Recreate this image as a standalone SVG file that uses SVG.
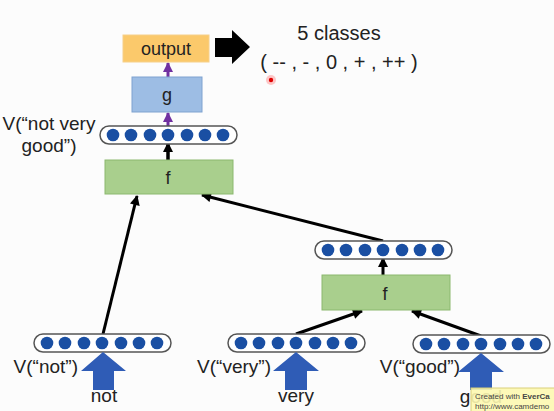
<svg xmlns="http://www.w3.org/2000/svg" width="554" height="411" viewBox="0 0 554 411">
<style>
.t{font-family:"Liberation Sans",Arial,sans-serif;fill:#222}
.pill{fill:#fff;stroke:#555;stroke-width:1.5}
.dot{fill:#1a4fa3}
.fbox{fill:#a9cf8d;stroke:#8bb86f;stroke-width:1}
.ln{stroke:#000;stroke-width:3;fill:none}
.pl{stroke:#7030a0;stroke-width:3;fill:none}
.barrow{fill:#2f5cb6}
</style>
<defs>
<marker id="ah" viewBox="0 0 10 10" refX="9" refY="5" markerWidth="11" markerHeight="10" markerUnits="userSpaceOnUse" orient="auto"><path d="M0,0 L10,5 L0,10 z" fill="#000"/></marker>
<marker id="ahp" viewBox="0 0 10 10" refX="9" refY="5" markerWidth="11" markerHeight="10" markerUnits="userSpaceOnUse" orient="auto"><path d="M0,0 L10,5 L0,10 z" fill="#7030a0"/></marker>
<g id="vec">
<rect class="pill" x="0" y="0" width="137" height="18" rx="9"/>
<circle class="dot" cx="13" cy="9" r="6.3"/>
<circle class="dot" cx="31" cy="9" r="6.3"/>
<circle class="dot" cx="50" cy="9" r="6.3"/>
<circle class="dot" cx="68" cy="9" r="6.3"/>
<circle class="dot" cx="87" cy="9" r="6.3"/>
<circle class="dot" cx="105" cy="9" r="6.3"/>
<circle class="dot" cx="123" cy="9" r="6.3"/>
</g>
</defs>
<rect width="554" height="411" fill="#fcfcfc"/>

<g id="connectors">
<line class="pl" x1="168" y1="77" x2="168" y2="63" marker-end="url(#ahp)"/>
<line class="ln" x1="168" y1="160" x2="168" y2="144"/>
<line class="pl" x1="168" y1="134" x2="168" y2="113" marker-end="url(#ahp)"/>
<line class="ln" x1="168" y1="160" x2="168" y2="143" marker-end="url(#ah)"/>
<line class="ln" x1="103" y1="334" x2="137" y2="196" marker-end="url(#ah)"/>
<line class="ln" x1="383" y1="241" x2="202" y2="195" marker-end="url(#ah)"/>
<line class="ln" x1="383" y1="275" x2="383" y2="258" marker-end="url(#ah)"/>
<line class="ln" x1="296" y1="334" x2="362" y2="311" marker-end="url(#ah)"/>
<line class="ln" x1="481" y1="336" x2="412" y2="311" marker-end="url(#ah)"/>
</g>

<g id="output">
<rect x="123" y="35" width="86" height="27" fill="#fbc96b" stroke="#f6d08a" stroke-width="1"/>
<text class="t" x="166" y="55" font-size="18" text-anchor="middle">output</text>
</g>
<g id="bigarrow">
<polygon points="215,38 232,38 232,30 250,47 232,64 232,57 215,57" fill="#000"/>
</g>
<g id="classes">
<text class="t" x="339" y="40" font-size="20" text-anchor="middle">5 classes</text>
<text class="t" x="339" y="69" font-size="20" text-anchor="middle">( -- , - , 0 , + , ++ )</text>
</g>
<g id="g">
<rect x="132" y="77" width="70" height="35" fill="#9dbde4" stroke="#7ea2cf" stroke-width="1"/>
<text class="t" x="167" y="101" font-size="18" text-anchor="middle">g</text>
</g>
<g id="vec-top">
<use href="#vec" x="100" y="126"/>
<text class="t" x="49" y="130" font-size="19" text-anchor="middle">V(“not very</text>
<text class="t" x="49" y="152" font-size="19" text-anchor="middle">good”)</text>
</g>
<g id="f-top">
<rect class="fbox" x="105" y="160" width="128" height="34"/>
<text class="t" x="168" y="184" font-size="18" text-anchor="middle">f</text>
</g>
<g id="vec-mid">
<use href="#vec" x="315" y="241"/>
</g>
<g id="f-mid">
<rect class="fbox" x="322" y="275" width="128" height="35"/>
<text class="t" x="385" y="300" font-size="18" text-anchor="middle">f</text>
</g>
<g id="vec-not">
<use href="#vec" x="34" y="334"/>
<text class="t" x="78" y="373" font-size="19" text-anchor="end">V(“not”)</text>
<polygon class="barrow" points="103,352 126,371 114,371 114,390 93,390 93,371 81,371"/>
<text class="t" x="104" y="402" font-size="19" text-anchor="middle">not</text>
</g>
<g id="vec-very">
<use href="#vec" x="228" y="334"/>
<text class="t" x="271" y="373" font-size="19" text-anchor="end">V(“very”)</text>
<polygon class="barrow" points="296,352 319,371 307,371 307,390 285,390 285,371 273,371"/>
<text class="t" x="296" y="402" font-size="19" text-anchor="middle">very</text>
</g>
<g id="vec-good">
<use href="#vec" x="413" y="335"/>
<text class="t" x="460" y="373" font-size="19" text-anchor="end">V(“good”)</text>
<polygon class="barrow" points="481,353 504,372 492,372 492,390 470,390 470,372 458,372"/>
<text class="t" x="481" y="403" font-size="19" text-anchor="middle">good</text>
</g>
<g id="watermark">
<rect x="471" y="388" width="90" height="26" fill="#fdf8b0" fill-opacity="0.9" stroke="#d9cf7a" stroke-width="1"/>
<text x="475" y="399" font-family="Liberation Sans,Arial,sans-serif" font-size="8" fill="#444">Created with <tspan font-weight="bold">EverCa</tspan></text>
<text x="475" y="409" font-family="Liberation Sans,Arial,sans-serif" font-size="8" fill="#444">http://www.camdemo</text>
</g>
<g id="cursor">
<circle cx="271" cy="80" r="5" fill="#ff6060" opacity="0.35"/>
<circle cx="271" cy="80" r="2.2" fill="#e00000"/>
</g>
</svg>
